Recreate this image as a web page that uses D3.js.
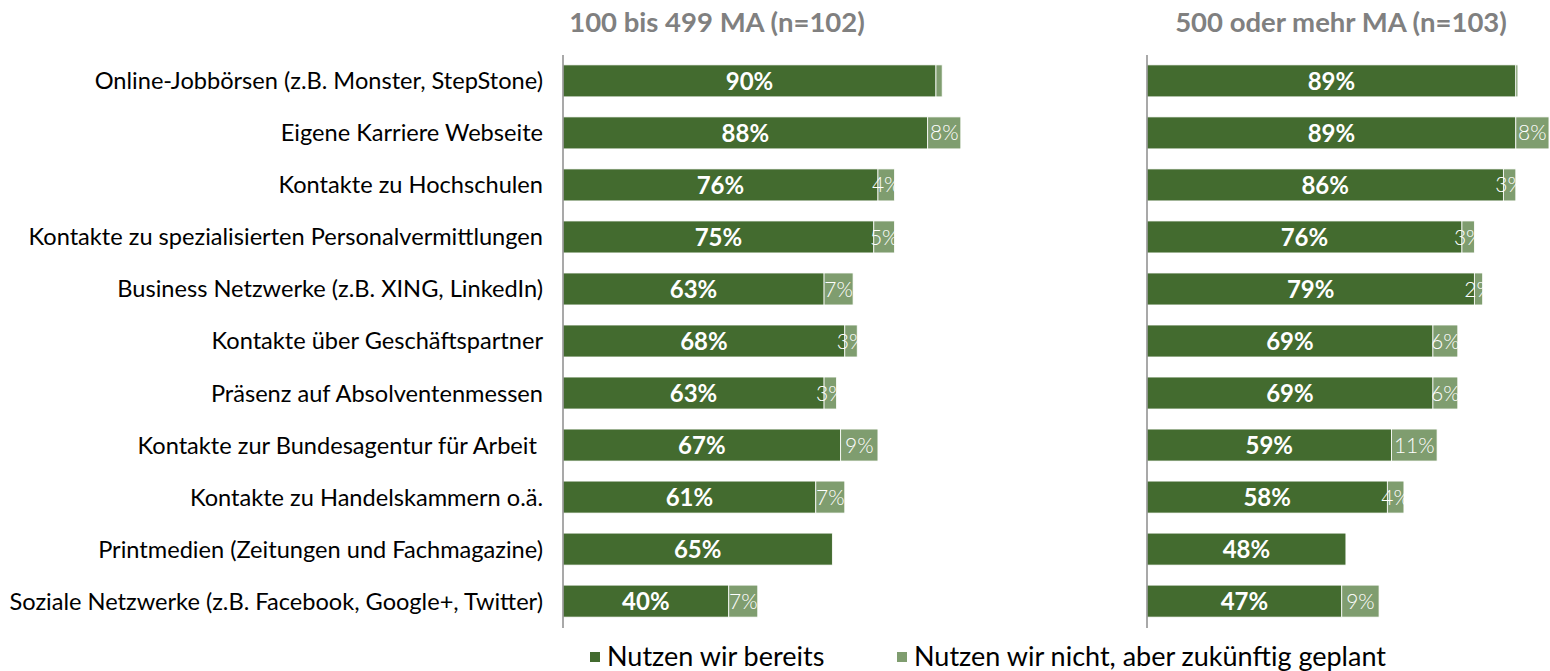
<!DOCTYPE html>
<meta charset="utf-8">
<style>
body { margin: 0; background: #fff; }
svg text { font-family: Lato, "Open Sans", sans-serif; }
.cat { font-size: 23.6px; fill: #000; text-anchor: end; white-space: pre; }
.hdr { font-size: 27.5px; font-weight: bold; fill: #808080; text-anchor: middle; }
.lbl-dark { font-size: 24px; font-weight: bold; fill: #fff; text-anchor: middle; }
.lbl-light { font-size: 21px; font-weight: 300; fill: #fff; text-anchor: middle; }
.legend text { font-size: 27px; fill: #000; }
</style>
<svg width="1550" height="671"></svg>
<script src="https://d3js.org/d3.v7.min.js"></script>
<script>

var categories = [
  "Online-Jobbörsen (z.B. Monster, StepStone)",
  "Eigene Karriere Webseite",
  "Kontakte zu Hochschulen",
  "Kontakte zu spezialisierten Personalvermittlungen",
  "Business Netzwerke (z.B. XING, LinkedIn)",
  "Kontakte über Geschäftspartner",
  "Präsenz auf Absolventenmessen",
  "Kontakte zur Bundesagentur für Arbeit ",
  "Kontakte zu Handelskammern o.ä.",
  "Printmedien (Zeitungen und Fachmagazine)",
  "Soziale Netzwerke (z.B. Facebook, Google+, Twitter)"
];

var panelTitles = ["100 bis 499 MA (n=102)", "500 oder mehr MA (n=103)"];
var seriesNames = ["Nutzen wir bereits", "Nutzen wir nicht, aber zukünftig geplant"];

// small group: 100-499 employees
var smallUsed    = [90, 88, 76, 75, 63, 68, 63, 67, 61, 65, 40];
var smallPlanned = [1.5, 8, 4, 5, 7, 3, 3, 9, 7, 0, 7];
// large group: 500+ employees
var largeUsed    = [89, 89, 86, 76, 79, 69, 69, 59, 58, 48, 47];
var largePlanned = [0.5, 8, 3, 3, 2, 6, 6, 11, 4, 0, 9];

var colors = ["#436b2f", "#7f9d6f"];

var svg = d3.select("svg");

var y = d3.scaleBand()
    .domain(categories)
    .range([55, 627])
    .paddingInner(0.385)
    .paddingOuter(0.19);

// category labels
svg.append("g").selectAll("text")
    .data(categories)
    .enter().append("text")
    .attr("class", "cat")
    .attr("x", 543)
    .attr("y", function(d) { return y(d) + y.bandwidth() / 2; })
    .attr("dy", "0.36em")
    .text(function(d) { return d; });

var panels = [
  { x0: 563, title: panelTitles[0], used: smallUsed, planned: smallPlanned, titleX: 717 },
  { x0: 1147, title: panelTitles[1], used: largeUsed, planned: largePlanned, titleX: 1341 }
];

panels.forEach(function(p) {
  var x = d3.scaleLinear().domain([0, 100]).range([p.x0, p.x0 + 414.4]);

  var rows = categories.map(function(c, i) {
    return { cat: c, used: p.used[i], planned: p.planned[i] };
  });

  var g = svg.append("g");

  g.append("text")
      .attr("class", "hdr")
      .attr("x", p.titleX)
      .attr("y", 32)
      .text(p.title);

  g.selectAll("rect.used")
    .data(rows)
    .enter().append("rect")
      .attr("class", "used")
      .attr("x", x(0))
      .attr("y", function(d) { return y(d.cat); })
      .attr("width", function(d) { return x(d.used) - x(0); })
      .attr("height", y.bandwidth())
      .attr("fill", colors[0])
      .attr("stroke", "#fff")
      .attr("stroke-width", 0.8);

  g.selectAll("rect.planned")
    .data(rows.filter(function(d) { return d.planned > 0; }))
    .enter().append("rect")
      .attr("class", "planned")
      .attr("x", function(d) { return x(d.used); })
      .attr("y", function(d) { return y(d.cat); })
      .attr("width", function(d) { return x(d.used + d.planned) - x(d.used); })
      .attr("height", y.bandwidth())
      .attr("fill", colors[1])
      .attr("stroke", "#fff")
      .attr("stroke-width", 0.8);

  g.selectAll("text.lbl-dark")
    .data(rows)
    .enter().append("text")
      .attr("class", "lbl-dark")
      .attr("x", function(d) { return (x(0) + x(d.used)) / 2; })
      .attr("y", function(d) { return y(d.cat) + y.bandwidth() / 2; })
      .attr("dy", "0.36em")
      .text(function(d) { return d.used + "%"; });

  g.selectAll("text.lbl-light")
    .data(rows.filter(function(d) { return d.planned >= 2; }))
    .enter().append("text")
      .attr("class", "lbl-light")
      .attr("x", function(d) { return (x(d.used) + x(d.used + d.planned)) / 2; })
      .attr("y", function(d) { return y(d.cat) + y.bandwidth() / 2; })
      .attr("dy", "0.36em")
      .text(function(d) { return d.planned + "%"; });

  g.append("line")
      .attr("x1", p.x0).attr("x2", p.x0)
      .attr("y1", 55).attr("y2", 628)
      .attr("stroke", "#8c8c8c")
      .attr("stroke-width", 1.5);
});

// legend
var legendX = [590, 897];
var legend = svg.append("g").attr("class", "legend")
  .selectAll("g")
  .data(seriesNames)
  .enter().append("g")
    .attr("transform", function(d, i) { return "translate(" + legendX[i] + ",0)"; });

legend.append("rect")
    .attr("x", 0).attr("y", 652)
    .attr("width", 10).attr("height", 10)
    .attr("fill", function(d, i) { return colors[i]; });

legend.append("text")
    .attr("x", 17)
    .attr("y", 666)
    .text(function(d) { return d; });

</script>
